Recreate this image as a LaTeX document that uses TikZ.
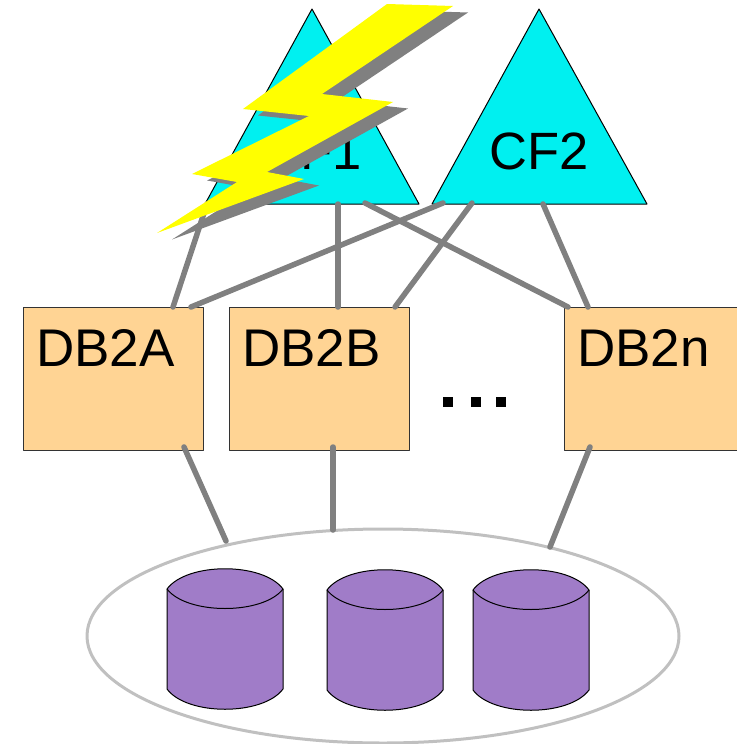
\documentclass[tikz,border=0pt]{standalone}
\usepackage{fontspec}
\setmainfont{Liberation Sans}
\usetikzlibrary{calc,shapes.geometric}
\definecolor{cfcyan}{RGB}{0,240,240}
\definecolor{dbpeach}{RGB}{255,212,148}
\definecolor{diskpurple}{RGB}{160,124,200}
\definecolor{linkgray}{RGB}{128,128,128}
\definecolor{ringgray}{RGB}{192,192,192}
\definecolor{boltyellow}{RGB}{255,255,0}
\tikzset{
	dbbox/.style={draw=black!80,fill=dbpeach,line width=.8pt,minimum width=180,minimum height=143,inner sep=0pt,outer sep=0pt,anchor=north west},
	dblabel/.style={anchor=base west,inner sep=0pt,font=\fontsize{53}{60}\selectfont},
	cflabel/.style={anchor=base,inner sep=0pt,font=\fontsize{52.5}{60}\selectfont},
	link/.style={draw=linkgray,line width=5.5pt,line cap=round},
	cftri/.style={draw=black,fill=cfcyan,line width=1pt,line join=round},
}
\begin{document}
\begin{tikzpicture}[x=1pt,y=-1pt,line join=round]
	\useasboundingbox (0,0) rectangle (736,744);
	% triangles
	\draw[cftri] (312,9)--(419,204)--(205,204)--cycle;
	\draw[cftri] (539,9)--(647,204)--(432,204)--cycle;
	\node[cflabel] (cfa) at (312,169) {CF1};
	\node[cflabel] (cfb) at (539,169) {CF2};
	% boxes
	\node[dbbox] (dba) at (23,307) {};
	\node[dbbox] (dbb) at (229,307) {};
	\node[dbbox] (dbn) at (564,307) {};
	\node[dblabel] (dbatext) at (36,366) {DB2A};
	\node[dblabel] (dbbtext) at (242,366) {DB2B};
	\node[dblabel] (dbntext) at (577,366) {DB2n};
	% the three dots
	\foreach \x in {443,471,496}
		\fill (\x,397) rectangle (\x+10,407);
	% ring round the disks
	\node[draw=ringgray,line width=3pt,ellipse,minimum width=592,minimum height=214,inner sep=0pt] (ring) at (383,636) {};
	% disks
	\foreach \x/\y in {167/589,327/590,473/590}{
		\draw[fill=diskpurple,line width=1pt] (\x,\y)..controls (\x+20,\y-27) and (\x+96,\y-27)..(\x+116,\y)
			--(\x+116,\y+100)..controls (\x+96,\y+127) and (\x+20,\y+127)..(\x,\y+100)--cycle;
		\draw[line width=1pt] (\x,\y)..controls (\x+20,\y+26) and (\x+96,\y+26)..(\x+116,\y);
	}
	% links to cf
	\coordinate (cfaleft) at (207,204);
	\coordinate (cfamid) at (338,204);
	\coordinate (cfaright) at (365,203);
	\coordinate (cfbleft) at (443,203);
	\coordinate (cfbmid) at (472,203);
	\coordinate (cfbright) at (543,204);
	\draw[link] (cfaleft)--($(dba.north west)+(150,0)$);
	\draw[link] (cfbleft)--($(dba.north west)+(168,0)$);
	\draw[link] (cfamid)--($(dbb.north west)+(109,0)$);
	\draw[link] (cfbmid)--($(dbb.north west)+(166,0)$);
	\draw[link] (cfaright)--($(dbn.north west)+(4,0)$);
	\draw[link] (cfbright)--($(dbn.north west)+(24,0)$);
	% links to ring
	\coordinate (ringa) at (226,541);
	\coordinate (ringb) at (333,530);
	\coordinate (ringn) at (550,547);
	\draw[link] ($(dba.south west)+(161,-3)$)--(ringa);
	\draw[link] ($(dbb.south west)+(104,-3)$)--(ringb);
	\draw[link] ($(dbn.south west)+(26,-3)$)--(ringn);
	% bolt
	\fill[linkgray,shift={(15,6.5)}] (387,4)--(453,6)--(322,94)--(393,102)--(267,172)--(304,179)--(157,233)--(237,182)--(192,174)--(309,116)--(243,109)--cycle;
	\fill[boltyellow] (387,4)--(453,6)--(322,94)--(393,102)--(267,172)--(304,179)--(157,233)--(237,182)--(192,174)--(309,116)--(243,109)--cycle;
\end{tikzpicture}
\end{document}
